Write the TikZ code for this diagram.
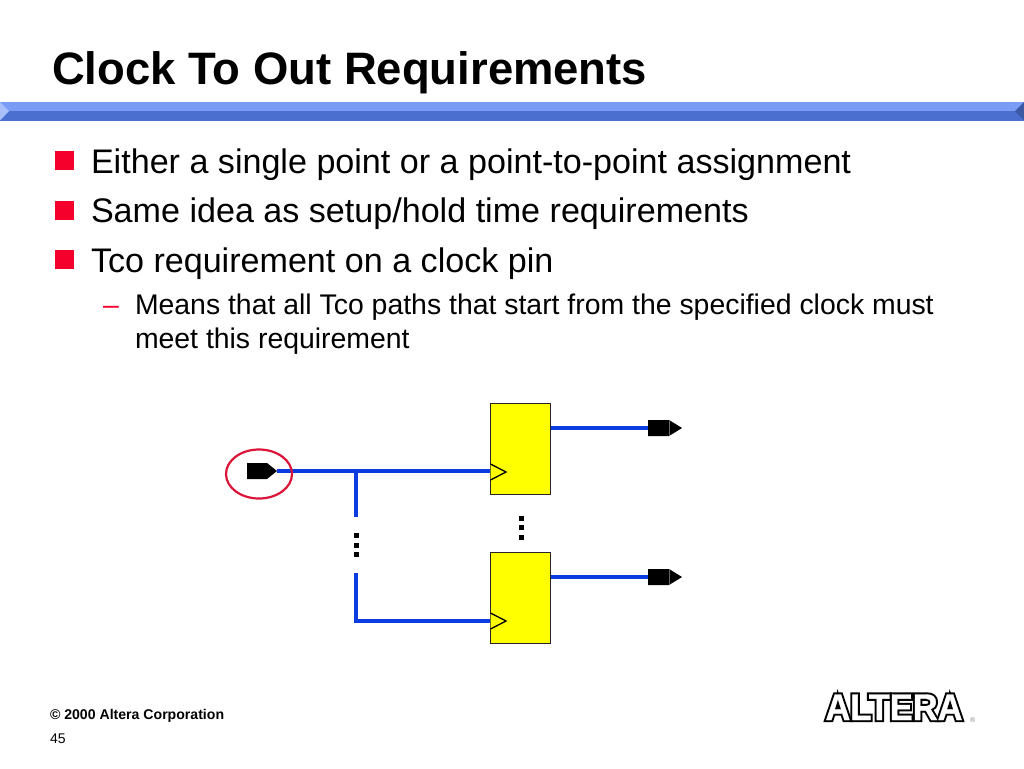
\documentclass[tikz,border=0pt]{standalone}
\usepackage{fontspec}
\setmainfont{Liberation Sans}
\newfontfamily\logofat[FakeBold=12,FakeStretch=.93]{Liberation Sans Bold}
\newfontfamily\logothin[FakeBold=1,FakeStretch=.93]{Liberation Sans Bold}
\usetikzlibrary{shapes.symbols,shapes.geometric}
\definecolor{barlight}{HTML}{7B9CF5}
\definecolor{bardark}{HTML}{4A6FCF}
\definecolor{barpale}{HTML}{A9C0FA}
\definecolor{wireblue}{HTML}{0A3CE0}
\definecolor{ringred}{HTML}{DC1438}
\definecolor{bulletred}{HTML}{F5002D}
\definecolor{regyellow}{HTML}{FFFF00}
\newcommand{\pxfont}[1]{\fontsize{#1}{#1}\selectfont}
\begin{document}
\begin{tikzpicture}[x=1pt,y=-1pt,inner sep=0pt,outer sep=0pt,
regblock/.style={draw=black!85,fill=regyellow,rectangle,minimum width=60pt,minimum height=91pt,line width=1.4pt},
wire/.style={draw=wireblue,line width=4.5pt},
pinblock/.style={signal,signal to=east,fill=black,minimum height=16pt,anchor=west},
dotblock/.style={fill=black,rectangle,minimum size=5pt},
square/.style={fill=bulletred,rectangle,minimum size=19pt},
line1/.style={anchor=base west,font=\pxfont{34.1}},
line2/.style={anchor=base west,font=\pxfont{28.4}}]
\useasboundingbox (0,0) rectangle (1024,768);

%%% Title and header bar
\node[anchor=base west,font=\pxfont{45.45}\bfseries] (title) at (52,84) {Clock To Out Requirements};
\fill[barlight] (0,102) -- (1024,102) -- (1024,121) -- (0,121) -- cycle;
\fill[bardark] (0,111) -- (1024,111) -- (1024,120.5) -- (0,120.5) -- cycle;
\fill[barpale] (0,102) -- (9,111) -- (0,120.5) -- cycle;
\fill[bardark!80!black] (1024,102) -- (1015,111) -- (1024,120.5) -- cycle;

%%% Bullets
\node[square] (b1) at (64.5,160.5) {};
\node[square] (b2) at (64.5,210) {};
\node[square] (b3) at (64.5,259.5) {};
\node[line1] (t1) at (91,173) {Either a single point or a point-to-point assignment};
\node[line1] (t2) at (91,222) {Same idea as setup/hold time requirements};
\node[line1] (t3) at (91,272) {Tco requirement on a clock pin};
\node[line2,text=bulletred] (dash) at (103,314) {–};
\node[line2] (t4) at (135,314) {Means that all Tco paths that start from the specified clock must};
\node[line2] (t5) at (135,348) {meet this requirement};

%%% Registers
\node[regblock] (R1) at (520.5,449) {};
\node[regblock] (R2) at (520.5,598) {};
\draw[draw=black,line width=1.3pt,fill=regyellow] (R1.west |- 0,464) -- (506,472) -- (R1.west |- 0,480);
\draw[draw=black,line width=1.3pt,fill=regyellow] (R2.west |- 0,613) -- (506,621) -- (R2.west |- 0,629);

%%% Pins
\node[pinblock,signal pointer angle=77,text width=20pt] (clk) at (247,471) {};
\node[pinblock,signal pointer angle=63,text width=21pt] (out1) at (648,428) {};
\node[pinblock,signal pointer angle=63,text width=21pt] (out2) at (648,577) {};
\draw[black!60,line width=.3pt] (669,420) -- (669,436);
\draw[black!60,line width=.3pt] (669,569) -- (669,585);

%%% Wires
\coordinate (jn) at (356,471);
\coordinate (gap1) at (356,517);
\coordinate (gap2) at (356,573);
\coordinate (c1) at (490,471);
\coordinate (c2) at (490,621);
\draw[wire] (clk.east) -- (c1);
\draw[wire] (jn) -- (gap1);
\draw[wire] (gap2) |- (c2);
\draw[wire] (R1.east |- 0,428) -- (out1.west);
\draw[wire] (R2.east |- 0,577) -- (out2.west);

%%% Dots
\foreach \y [count=\i] in {518,527.5,537} \node[dotblock] (da\i) at (521,\y) {};
\foreach \y [count=\i] in {535.5,545,554.5} \node[dotblock] (db\i) at (356,\y) {};

%%% Ring round the clock pin
\node[draw=ringred,ellipse,line width=2.2pt,minimum width=66pt,minimum height=49pt] (ring) at (259,474) {};

%%% Footer
\node[anchor=base west,font=\pxfont{14.1}\bfseries] (copy) at (50,719) {© 2000 Altera Corporation};
\node[anchor=base west,font=\pxfont{14}] (page) at (50,743) {45};
\node[anchor=base west,font=\logofat\pxfont{37}] (logobg) at (825.5,720) {\rlap{ALTERA}\textcolor{white}{\logothin ALTERA}};
\node[anchor=base west,font=\pxfont{7},text=gray] (reg) at (970,722) {®};
\end{tikzpicture}
\end{document}
